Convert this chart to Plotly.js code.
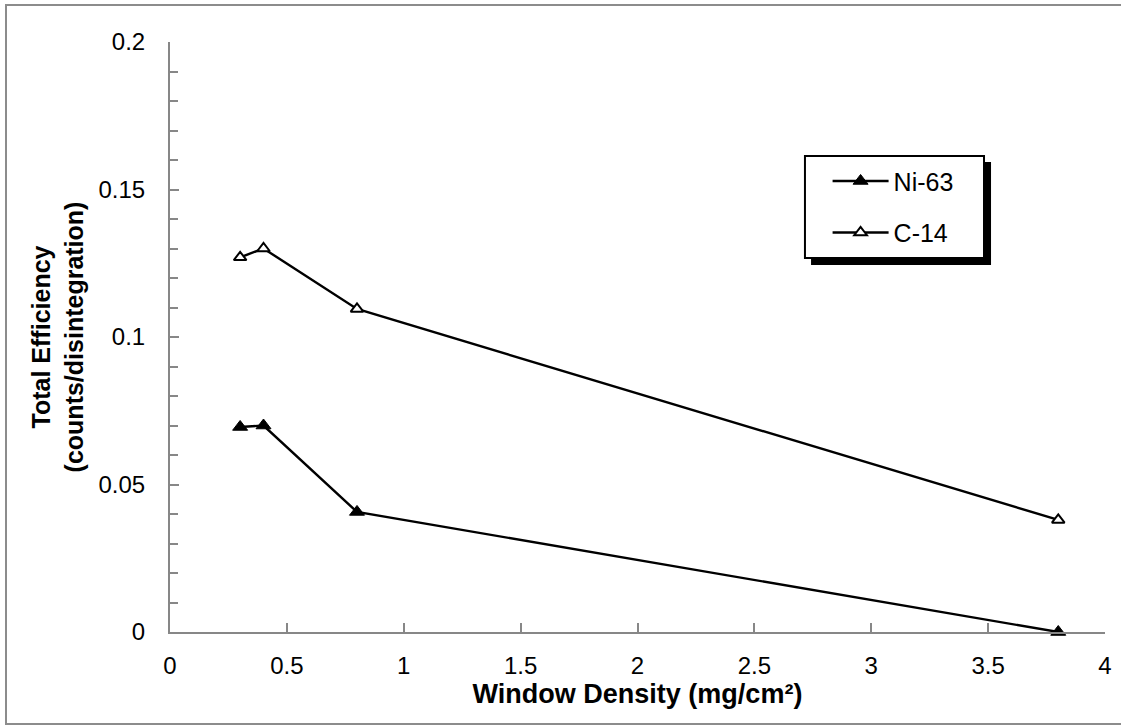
<!DOCTYPE html>
<html>
<head>
<meta charset="utf-8">
<script src="https://cdn.plot.ly/plotly-3.0.1.min.js"></script>
<style>
  html, body { margin: 0; padding: 0; background: #fff; }
  #chart { width: 1121px; height: 726px; }
</style>
</head>
<body>
<div id="chart"></div>
<script>
// Window density of the detector window (mg/cm²)
const windowDensity = [0.3, 0.4, 0.8, 3.8];

// Total counting efficiency (counts/disintegration) per isotope
const ni63Efficiency = [0.0695, 0.0700, 0.0407, 0.0];
const c14Efficiency = [0.127, 0.130, 0.1095, 0.038];

const seriesNames = ['Ni-63', 'C-14'];

const xTickValues = [0, 0.5, 1, 1.5, 2, 2.5, 3, 3.5, 4];
const xTickLabels = ['0', '0.5', '1', '1.5', '2', '2.5', '3', '3.5', '4'];
const yTickValues = [0, 0.05, 0.1, 0.15, 0.2];
const yTickLabels = ['0', '0.05', '0.1', '0.15', '0.2'];

const FONT = '"Liberation Sans", Arial, Helvetica, sans-serif';
const AXIS_GRAY = '#878787';

const traces = [
  {
    x: windowDensity,
    y: ni63Efficiency,
    name: seriesNames[0],
    legendgroup: 'a',
    type: 'scatter',
    mode: 'lines+markers',
    cliponaxis: false,
    line: { color: '#000', width: 2.4 },
    marker: { symbol: 'triangle-up', size: 13, color: '#000', line: { color: '#000', width: 1 } }
  },
  {
    x: windowDensity,
    y: c14Efficiency,
    name: seriesNames[1],
    legendgroup: 'b',
    type: 'scatter',
    mode: 'lines+markers',
    cliponaxis: false,
    line: { color: '#000', width: 2.4 },
    marker: { symbol: 'triangle-up', size: 11, color: '#fff', line: { color: '#000', width: 2 } }
  }
];

const layout = {
  width: 1121,
  height: 726,
  margin: { l: 170, r: 16, t: 42, b: 94 },
  paper_bgcolor: '#fff',
  plot_bgcolor: '#fff',
  font: { family: FONT, color: '#000', size: 24 },
  showlegend: true,
  legend: {
    x: 0.7033, y: 0.803, xanchor: 'left', yanchor: 'top',
    bgcolor: 'rgba(0,0,0,0)',
    borderwidth: 0,
    font: { family: FONT, size: 25, color: '#000' },
    traceorder: 'grouped',
    tracegroupgap: 16,
    itemwidth: 56
  },
  xaxis: {
    range: [0, 4],
    tickvals: xTickValues,
    ticktext: xTickLabels,
    ticks: 'inside',
    ticklen: 9,
    tickwidth: 2,
    tickcolor: AXIS_GRAY,
    showline: true,
    linecolor: AXIS_GRAY,
    linewidth: 2,
    showgrid: false,
    zeroline: false,
    ticklabelstandoff: 11,
    tickfont: { family: FONT, size: 24, color: '#000' },
    title: {
      text: '<b>Window Density (mg/cm²)</b>',
      font: { family: FONT, size: 27, color: '#000' },
      standoff: 6
    },
    fixedrange: true
  },
  yaxis: {
    range: [0, 0.2],
    tickvals: yTickValues,
    ticktext: yTickLabels,
    ticks: 'inside',
    ticklen: 9,
    tickwidth: 2,
    tickcolor: AXIS_GRAY,
    minor: { dtick: 0.01, ticks: 'inside', ticklen: 8, tickwidth: 2, tickcolor: AXIS_GRAY },
    showline: true,
    linecolor: AXIS_GRAY,
    linewidth: 2,
    showgrid: false,
    zeroline: false,
    ticklabelstandoff: 18,
    tickfont: { family: FONT, size: 24, color: '#000' },
    title: {
      text: '<b>Total Efficiency<br>(counts/disintegration)</b>',
      font: { family: FONT, size: 25, color: '#000' },
      standoff: 8
    },
    fixedrange: true
  },
  shapes: [
    // outer chart frame
    { type: 'rect', xref: 'paper', yref: 'paper', x0: -0.1754, x1: 1.0214, y0: -0.156, y1: 1.0627,
      line: { color: '#8c8c8c', width: 2 }, fillcolor: 'rgba(0,0,0,0)', layer: 'below' },
    // legend drop shadow
    { type: 'rect', xref: 'paper', yref: 'paper', x0: 0.6856, x1: 0.8781, y0: 0.6220, y1: 0.7966,
      line: { width: 0 }, fillcolor: '#000', layer: 'above' },
    // legend box
    { type: 'rect', xref: 'paper', yref: 'paper', x0: 0.6791, x1: 0.8706, y0: 0.6339, y1: 0.8068,
      line: { color: '#000', width: 2 }, fillcolor: '#fff', layer: 'above' }
  ]
};

Plotly.newPlot('chart', traces, layout, { displayModeBar: false, staticPlot: true });
</script>
</body>
</html>
